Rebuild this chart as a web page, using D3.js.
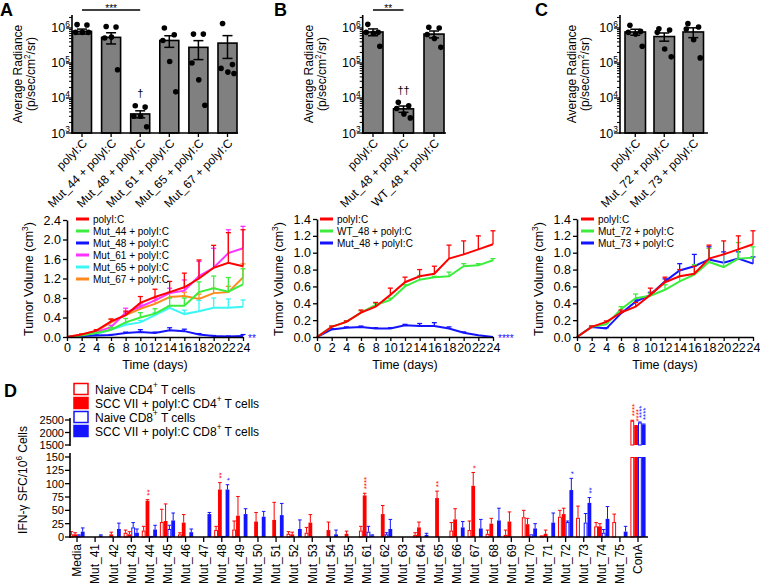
<!DOCTYPE html>
<html><head><meta charset="utf-8">
<script src="https://cdn.jsdelivr.net/npm/d3@7"></script>
<style>
body{margin:0;background:#fff;}
svg text{font-family:"Liberation Sans",Arial,Helvetica,sans-serif;fill:#000;}
</style>
</head><body>
<svg id="c" width="760" height="586"></svg>
<script>
// ---------------- DATA ----------------
// Panel A (bars, log radiance)
const barA_groups = ["polyI:C","Mut_44 + polyI:C","Mut_48 + polyI:C","Mut_61 + polyI:C","Mut_65 + polyI:C","Mut_67 + polyI:C"];
const barA_mean = [8.0e5, 5.4e5, 3.5e3, 4.4e5, 2.8e5, 3.7e5];
const barA_sem  = [1.3e5, 1.9e5, 0.8e3, 1.6e5, 1.55e5, 2.35e5];
const barA_points = [
  [1.25e6,1.22e6,7.5e5,7.5e5,7.5e5],
  [1.1e6,1.07e6,5.2e5,5.5e5,6.4e4],
  [6.0e3,5.5e3,3.0e3,3.0e3,1.5e3],
  [1.0e6,6.4e5,4.4e5,1.1e5,1.5e4],
  [6.7e5,6.7e5,1.0e5,3.3e4,6.2e3],
  [1.35e6,9.0e4,7.0e4,5.5e4,5.0e4]
];
// Panel B (bars)
const barB_groups = ["polyI:C","Mut_48 + polyI:C","WT_48 + polyI:C"];
const barB_mean = [7.7e5, 4.9e3, 6.7e5];
const barB_sem  = [1.7e5, 1.0e3, 1.5e5];
const barB_points = [
  [1.27e6,7.5e5,7.5e5,7.0e5,3.0e5],
  [7.5e3,6.0e3,5.0e3,3.5e3,2.7e3],
  [1.05e6,1.0e6,6.5e5,5.0e5,2.8e5]
];
// Panel C (bars)
const barC_groups = ["polyI:C","Mut_72 + polyI:C","Mut_73 + polyI:C"];
const barC_mean = [7.7e5, 5.7e5, 7.7e5];
const barC_sem  = [1.5e5, 1.5e5, 2.4e5];
const barC_points = [
  [1.2e6,8.0e5,7.5e5,6.7e5,3.0e5],
  [9.5e5,8.8e5,7.5e5,2.5e5,1.5e5],
  [1.33e6,1.07e6,9.4e5,4.6e5,1.4e5]
];

// Tumour growth (days)
const days = [0,2,4,6,8,10,12,14,16,18,20,22,24];
// Panel A lines
const lineA_polyIC     = [0,0.05,0.13,0.32,0.45,0.70,0.82,0.92,1.02,1.20,1.42,1.52,1.45];
const lineA_polyIC_sem = [0,0.01,0.02,0.05,0.08,0.13,0.16,0.22,0.29,0.38,0.46,0.62,0.75];
const lineA_mut44      = [0,0.03,0.08,0.15,0.30,0.40,0.48,0.64,0.64,0.92,1.00,0.93,1.08];
const lineA_mut44_sem  = [0,0.01,0.02,0.05,0.08,0.10,0.10,0.16,0.16,0.21,0.25,0.29,0.32];
const lineA_mut48      = [0,0.02,0.03,0.04,0.08,0.10,0.08,0.14,0.12,0.05,0.02,0.01,0.02];
const lineA_mut48_sem  = [0,0.01,0.01,0.01,0.02,0.05,0.02,0.05,0.04,0.02,0.01,0.01,0.03];
const lineA_mut61      = [0,0.03,0.10,0.20,0.50,0.62,0.75,0.90,0.95,1.25,1.42,1.72,1.82];
const lineA_mut61_sem  = [0,0.01,0.02,0.04,0.09,0.06,0.05,0.10,0.22,0.30,0.40,0.48,0.45];
const lineA_mut65      = [0,0.02,0.06,0.15,0.25,0.30,0.45,0.60,0.47,0.53,0.60,0.60,0.62];
const lineA_mut65_sem  = [0,0.01,0.01,0.03,0.04,0.04,0.05,0.04,0.08,0.22,0.20,0.18,0.14];
const lineA_mut67      = [0,0.05,0.12,0.30,0.45,0.58,0.68,0.82,0.84,0.78,0.90,0.92,1.22];
const lineA_mut67_sem  = [0,0.01,0.02,0.06,0.05,0.06,0.07,0.10,0.08,0.10,0.10,0.12,0.28];
// Panel B lines
const lineB_polyIC     = [0,0.12,0.18,0.29,0.36,0.50,0.65,0.72,0.75,0.93,0.98,1.04,1.10];
const lineB_polyIC_sem = [0,0.01,0.01,0.03,0.05,0.08,0.06,0.08,0.09,0.16,0.16,0.16,0.16];
const lineB_wt48       = [0,0.12,0.18,0.29,0.38,0.44,0.60,0.68,0.71,0.72,0.84,0.85,0.91];
const lineB_wt48_sem   = [0,0.01,0.01,0.02,0.02,0.02,0.02,0.05,0.01,0.05,0.03,0.02,0.02];
const lineB_mut48      = [0,0.09,0.11,0.12,0.10,0.10,0.14,0.13,0.13,0.10,0.05,0.02,0.00];
const lineB_mut48_sem  = [0,0.01,0.01,0.01,0.01,0.01,0.01,0.03,0.04,0.02,0.01,0.00,0.00];
// Panel C lines
const lineC_polyIC     = [0,0.12,0.18,0.29,0.36,0.50,0.65,0.72,0.75,0.93,0.98,1.04,1.10];
const lineC_polyIC_sem = [0,0.01,0.01,0.03,0.05,0.08,0.06,0.08,0.09,0.16,0.16,0.16,0.16];
const lineC_mut72      = [0,0.12,0.15,0.33,0.46,0.49,0.56,0.66,0.74,0.89,0.83,0.93,0.94];
const lineC_mut72_sem  = [0,0.01,0.02,0.03,0.05,0.03,0.06,0.06,0.12,0.16,0.15,0.19,0.13];
const lineC_mut73      = [0,0.12,0.10,0.28,0.42,0.50,0.66,0.79,0.84,0.92,0.88,0.93,0.87];
const lineC_mut73_sem  = [0,0.01,0.01,0.02,0.02,0.03,0.03,0.08,0.14,0.15,0.13,0.08,0.08];

// Panel D (ELISpot)
const dCats = ["Media","Mut_41","Mut_42","Mut_43","Mut_44","Mut_45","Mut_46","Mut_47","Mut_48","Mut_49","Mut_50","Mut_51","Mut_52","Mut_53","Mut_54","Mut_55",
  "Mut_61","Mut_62","Mut_63","Mut_64","Mut_65","Mut_66","Mut_67","Mut_68","Mut_69","Mut_70","Mut_71","Mut_72","Mut_73","Mut_74","Mut_75","ConA"];
const naiveCD4     = [5,0,0,8,12,28,5,0,13,14,0,0,6,8,0,0,12,0,0,4,0,12,13,6,4,37,3,38,36,20,28,2470];
const naiveCD4_sem = [5,0,0,5,8,24,3,0,7,16,0,0,4,10,0,0,8,0,0,4,0,15,17,7,9,13,0,12,22,7,15,20];
const sccCD4       = [5,0,5,5,68,30,27,0,89,40,29,32,5,27,13,6,78,43,0,18,73,33,96,25,29,24,6,43,0,20,0,2260];
const sccCD4_sem   = [3,0,4,5,2,32,15,0,13,36,17,33,4,15,15,5,4,16,0,10,13,20,25,10,18,11,7,11,0,5,0,20];
const naiveCD8     = [3,0,0,18,2,15,0,0,2,0,0,0,0,0,0,0,10,5,0,0,0,0,0,0,0,5,0,28,27,8,0,2400];
const naiveCD8_sem = [1,0,0,9,0,7,0,0,0,0,0,0,0,0,0,0,10,3,0,0,0,0,0,0,0,0,0,2,17,6,0,20];
const sccCD8       = [10,3,15,8,14,31,9,43,89,43,38,41,15,0,5,0,3,15,0,4,0,18,16,31,0,16,27,88,64,34,10,2320];
const sccCD8_sem   = [7,1,11,7,8,14,6,3,9,10,10,22,17,0,8,0,1,18,0,3,0,11,17,23,0,9,18,22,10,23,10,20];
const dStars = [
  {cat:"Mut_44",s:1,t:"**"},{cat:"Mut_48",s:1,t:"**"},{cat:"Mut_48",s:3,t:"*"},
  {cat:"Mut_61",s:1,t:"****"},{cat:"Mut_65",s:1,t:"**"},{cat:"Mut_67",s:1,t:"*"},
  {cat:"Mut_72",s:3,t:"*"},{cat:"Mut_73",s:3,t:"**"},
  {cat:"ConA",s:0,t:"****"},{cat:"ConA",s:1,t:"****"},{cat:"ConA",s:2,t:"****"},{cat:"ConA",s:3,t:"****"}
];

// ---------------- DRAWING ----------------
const svg = d3.select("#c");
const RED="#ff0000", GREEN="#3ded3d", BLUE="#1414ff", MAG="#ff33ff", CYAN="#3cf6f6", ORANGE="#ff8a1c";

function rich(g, x, y, parts, fs, opts={}){
  const t = g.append("text").attr("x",x).attr("y",y).attr("font-size",fs);
  if(opts.anchor) t.attr("text-anchor",opts.anchor);
  if(opts.transform) t.attr("transform",opts.transform);
  if(opts.fill) t.style("fill",opts.fill);
  let shift=0;
  parts.forEach(p=>{
    const ts=t.append("tspan").text(p.t);
    const target = p.sup ? -0.42*fs : 0;
    ts.attr("dy", target-shift); shift=target;
    if(p.sup) ts.attr("font-size", fs*0.68);
  });
  return t;
}

function panelLetter(l,x,y){
  svg.append("text").attr("x",x).attr("y",y).attr("font-size",18).attr("font-weight","bold").text(l);
}

// ---- bar panels ----
function barPanel(o){
  const g = svg.append("g");
  const n=o.groups.length, pi=1-o.bw/o.step;
  const x=d3.scaleBand().domain(o.groups).range([o.r0, o.r0+o.step*(n-pi)]).paddingInner(pi).paddingOuter(0);
  const y=d3.scaleLog().domain([1e3,2.35e6]).range([133,15]);
  const bw=x.bandwidth();
  const cx=d=>x(d)+bw/2;
  g.selectAll("rect.bar").data(o.groups).join("rect")
    .attr("x",d=>x(d)).attr("y",(d,i)=>y(o.mean[i])).attr("width",bw)
    .attr("height",(d,i)=>133-y(o.mean[i])).attr("fill","#808080").attr("stroke","#000").attr("stroke-width",1.6);
  o.groups.forEach((d,i)=>{
    const top=y(o.mean[i]+o.sem[i]), bot=y(Math.max(o.mean[i]-o.sem[i],1001));
    g.append("line").attr("x1",cx(d)).attr("x2",cx(d)).attr("y1",top).attr("y2",bot).attr("stroke","#000").attr("stroke-width",1.5);
    [top,bot].forEach(yy=>g.append("line").attr("x1",cx(d)-5).attr("x2",cx(d)+5).attr("y1",yy).attr("y2",yy).attr("stroke","#000").attr("stroke-width",1.5));
  });
  const jit=[-0.26,0.26,-0.34,0.02,0.34];
  o.groups.forEach((d,i)=>{
    g.selectAll(null).data(o.pts[i]).join("circle")
      .attr("cx",(v,j)=>cx(d)+jit[j]*bw).attr("cy",v=>y(v)).attr("r",2.8).attr("fill","#000");
  });
  g.append("line").attr("x1",o.axisX).attr("x2",o.axisX).attr("y1",15).attr("y2",133.8).attr("stroke","#000").attr("stroke-width",1.6);
  g.append("line").attr("x1",o.axisX-0.8).attr("x2",o.xEnd).attr("y1",133).attr("y2",133).attr("stroke","#000").attr("stroke-width",1.6);
  for(let k=3;k<=6;k++){
    g.append("line").attr("x1",o.axisX-6).attr("x2",o.axisX).attr("y1",y(10**k)).attr("y2",y(10**k)).attr("stroke","#000").attr("stroke-width",1.3);
    rich(g,o.axisX-2,y(10**k)+4.5,[{t:"10"},{t:String(k),sup:true}],12.5,{anchor:"end"});
    for(let m=2;m<=9;m++){const v=m*10**k; if(v<2.35e6)
      g.append("line").attr("x1",o.axisX-3).attr("x2",o.axisX).attr("y1",y(v)).attr("y2",y(v)).attr("stroke","#000").attr("stroke-width",1);}
  }
  o.groups.forEach(d=>{
    g.append("line").attr("x1",cx(d)).attr("x2",cx(d)).attr("y1",133).attr("y2",137).attr("stroke","#000").attr("stroke-width",1.3);
    g.append("text").attr("text-anchor","end").attr("font-size",12)
      .attr("transform",`translate(${cx(d)+3},${141}) rotate(-45)`).attr("dy","0.35em").text(d);
  });
  g.append("text").attr("text-anchor","middle").attr("font-size",12).attr("transform",`translate(${o.ylx},74) rotate(-90)`).text("Average Radiance");
  rich(g,0,0,[{t:"(p/sec/cm"},{t:"2",sup:true},{t:"/sr)"}],12,{anchor:"middle",transform:`translate(${o.ylx+13},74) rotate(-90)`});
  return {x,y,cx};
}

const pA = barPanel({groups:barA_groups,mean:barA_mean,sem:barA_sem,pts:barA_points,r0:72.5,step:29.1,bw:19,axisX:72,xEnd:238,ylx:22});
const pB = barPanel({groups:barB_groups,mean:barB_mean,sem:barB_sem,pts:barB_points,r0:363,step:30.5,bw:20,axisX:362.7,xEnd:446,ylx:313});
const pC = barPanel({groups:barC_groups,mean:barC_mean,sem:barC_sem,pts:barC_points,r0:625,step:29,bw:20.5,axisX:620,xEnd:708,ylx:576});

panelLetter("A",0,16); panelLetter("B",274,16); panelLetter("C",535,16);

function sigLine(p,a,b,txt){
  const x1=p.cx(a), x2=p.cx(b);
  svg.append("line").attr("x1",x1).attr("x2",x2).attr("y1",10).attr("y2",10).attr("stroke","#000").attr("stroke-width",1.5);
  svg.append("text").attr("x",(x1+x2)/2).attr("y",12).attr("text-anchor","middle").attr("font-size",10).text(txt);
}
sigLine(pA,barA_groups[0],barA_groups[2],"***");
sigLine(pB,barB_groups[0],barB_groups[1],"**");
svg.append("text").attr("x",pA.cx(barA_groups[2])).attr("y",97).attr("text-anchor","middle").attr("font-size",11).text("†");
svg.append("text").attr("x",pB.cx(barB_groups[1])).attr("y",94).attr("text-anchor","middle").attr("font-size",11).text("††");

// ---- line panels ----
function linePanel(o){
  const g=svg.append("g");
  const x=d3.scaleLinear().domain([0,24]).range([o.x0,o.x1]);
  const y=d3.scaleLinear().domain([0,o.ymax]).range([337,o.ytop]);
  const line=d3.line().x((d,i)=>x(days[i])).y(d=>y(d));
  o.series.slice().reverse().forEach(s=>{
    s.sem.forEach((e,i)=>{ if(e>0){
      const xx=x(days[i]), y1=y(s.vals[i]), y2=y(s.vals[i]+e);
      g.append("line").attr("x1",xx).attr("x2",xx).attr("y1",y1).attr("y2",y2).attr("stroke",s.color).attr("stroke-width",1.3);
      g.append("line").attr("x1",xx-2.5).attr("x2",xx+2.5).attr("y1",y2).attr("y2",y2).attr("stroke",s.color).attr("stroke-width",1.3);
    }});
    g.append("path").datum(s.vals).attr("d",line).attr("fill","none").attr("stroke",s.color).attr("stroke-width",2);
  });
  const ax=g.append("g").attr("transform","translate(0,337)")
    .call(d3.axisBottom(x).tickValues(d3.range(0,25,2)).tickSize(4).tickSizeOuter(0).tickPadding(2));
  const ay=g.append("g").attr("transform",`translate(${o.x0},0)`)
    .call(d3.axisLeft(y).tickValues(d3.range(0,o.ymax+1e-9,o.ystep)).tickFormat(d3.format(".1f")).tickSize(4).tickSizeOuter(0).tickPadding(2));
  [ax,ay].forEach(a=>{
    a.select(".domain").attr("stroke","#000").attr("stroke-width",1.6);
    a.selectAll(".tick line").attr("stroke","#000").attr("stroke-width",1.3);
    a.selectAll(".tick text").attr("font-size",12.5).attr("font-family",null).style("fill","#000");
  });
  g.append("text").attr("x",(o.x0+o.x1)/2).attr("y",369).attr("text-anchor","middle").attr("font-size",12.5).text("Time (days)");
  rich(g,0,0,[{t:"Tumor Volume (cm"},{t:"3",sup:true},{t:")"}],12.5,{anchor:"middle",transform:`translate(${o.ylx},279) rotate(-90)`});
  o.series.forEach((s,i)=>{
    const yy=219+i*12;
    g.append("line").attr("x1",o.lx).attr("x2",o.lx+13).attr("y1",yy).attr("y2",yy).attr("stroke",s.color).attr("stroke-width",3);
    g.append("text").attr("x",o.lx+17).attr("y",yy+3.5).attr("font-size",10).text(s.name);
  });
  if(o.star){
    g.append("text").attr("x",x(24)+5).attr("y",342).attr("font-size",10).style("fill",BLUE).text(o.star);
  }
}

linePanel({x0:67,x1:243,ymax:2.4,ystep:0.4,ytop:220,ylx:33,lx:76,star:"**",series:[
  {name:"polyI:C",color:RED,vals:lineA_polyIC,sem:lineA_polyIC_sem},
  {name:"Mut_44 + polyI:C",color:GREEN,vals:lineA_mut44,sem:lineA_mut44_sem},
  {name:"Mut_48 + polyI:C",color:BLUE,vals:lineA_mut48,sem:lineA_mut48_sem},
  {name:"Mut_61 + polyI:C",color:MAG,vals:lineA_mut61,sem:lineA_mut61_sem},
  {name:"Mut_65 + polyI:C",color:CYAN,vals:lineA_mut65,sem:lineA_mut65_sem},
  {name:"Mut_67 + polyI:C",color:ORANGE,vals:lineA_mut67,sem:lineA_mut67_sem}]});
linePanel({x0:317,x1:493,ymax:1.4,ystep:0.2,ytop:219,ylx:283,lx:320,star:"****",series:[
  {name:"polyI:C",color:RED,vals:lineB_polyIC,sem:lineB_polyIC_sem},
  {name:"WT_48 + polyI:C",color:GREEN,vals:lineB_wt48,sem:lineB_wt48_sem},
  {name:"Mut_48 + polyI:C",color:BLUE,vals:lineB_mut48,sem:lineB_mut48_sem}]});
linePanel({x0:577,x1:753,ymax:1.4,ystep:0.2,ytop:219,ylx:543,lx:581,series:[
  {name:"polyI:C",color:RED,vals:lineC_polyIC,sem:lineC_polyIC_sem},
  {name:"Mut_72 + polyI:C",color:GREEN,vals:lineC_mut72,sem:lineC_mut72_sem},
  {name:"Mut_73 + polyI:C",color:BLUE,vals:lineC_mut73,sem:lineC_mut73_sem}]});

// ---- panel D ----
(function(){
  const g=svg.append("g");
  panelLetter("D",4,397);
  const axX=70, y0=537;
  const x=d3.scalePoint().domain(dCats).range([77,638]);
  const sub=d3.scaleBand().domain([0,1,2,3]).range([-7.6,7.6]);
  const yL=d3.scaleLinear().domain([0,150]).range([537,457]);
  const yU=d3.scaleLinear().domain([1500,2500]).range([445,420]);
  const series=[
    {v:naiveCD4,e:naiveCD4_sem,c:RED,filled:false},
    {v:sccCD4,e:sccCD4_sem,c:RED,filled:true},
    {v:naiveCD8,e:naiveCD8_sem,c:BLUE,filled:false},
    {v:sccCD8,e:sccCD8_sem,c:BLUE,filled:true}];
  const topY=v=> v>150 ? yU(v) : yL(v);
  series.forEach((s,si)=>{
    dCats.forEach((cat,ci)=>{
      const v=s.v[ci]; if(!(v>0)) return;
      const bx=x(cat)+sub(si), bw=sub.bandwidth();
      const segs = v>150 ? [[yL(150),y0],[yU(v),yU(1500)]] : [[yL(v),y0]];
      segs.forEach(([t,b])=>{
        if(s.filled) g.append("rect").attr("x",bx).attr("y",t).attr("width",bw).attr("height",b-t).attr("fill",s.c);
        else g.append("rect").attr("x",bx+0.5).attr("y",t+0.5).attr("width",bw-1).attr("height",b-t-0.5).attr("fill","#fff").attr("stroke",s.c).attr("stroke-width",1);
      });
      const e=s.e[ci];
      if(e>0){
        const cxx=bx+bw/2, t1=topY(v), t2=topY(v+e);
        g.append("line").attr("x1",cxx).attr("x2",cxx).attr("y1",t1).attr("y2",t2).attr("stroke",s.c).attr("stroke-width",1);
        g.append("line").attr("x1",cxx-1.8).attr("x2",cxx+1.8).attr("y1",t2).attr("y2",t2).attr("stroke",s.c).attr("stroke-width",1);
      }
    });
  });
  dStars.forEach(st=>{
    const ci=dCats.indexOf(st.cat), s=series[st.s];
    const cxx=x(st.cat)+sub(st.s)+sub.bandwidth()/2;
    const yy=topY(s.v[ci]+s.e[ci])-4;
    g.append("text").attr("transform",`translate(${cxx},${yy}) rotate(-90)`).attr("dy","0.55em")
      .attr("font-size",8).style("fill",s.c).text(st.t);
  });
  g.append("line").attr("x1",axX).attr("x2",axX).attr("y1",418).attr("y2",446).attr("stroke","#000").attr("stroke-width",1.6);
  g.append("line").attr("x1",axX).attr("x2",axX).attr("y1",453).attr("y2",537.8).attr("stroke","#000").attr("stroke-width",1.6);
  g.append("line").attr("x1",axX-0.8).attr("x2",648).attr("y1",537).attr("y2",537).attr("stroke","#000").attr("stroke-width",1.6);
  d3.range(0,151,25).forEach(v=>{
    g.append("line").attr("x1",axX-5).attr("x2",axX).attr("y1",yL(v)).attr("y2",yL(v)).attr("stroke","#000").attr("stroke-width",1.3);
    g.append("text").attr("x",axX-6).attr("y",yL(v)+4).attr("text-anchor","end").attr("font-size",11).text(v);
  });
  [1500,2000,2500].forEach(v=>{
    g.append("line").attr("x1",axX-5).attr("x2",axX).attr("y1",yU(v)).attr("y2",yU(v)).attr("stroke","#000").attr("stroke-width",1.3);
    g.append("text").attr("x",axX-6).attr("y",yU(v)+4).attr("text-anchor","end").attr("font-size",11).text(v);
  });
  dCats.forEach(cat=>{
    g.append("line").attr("x1",x(cat)).attr("x2",x(cat)).attr("y1",537).attr("y2",542).attr("stroke","#000").attr("stroke-width",1.3);
    g.append("text").attr("transform",`translate(${x(cat)},544) rotate(-90)`).attr("text-anchor","end").attr("dy","0.36em").attr("font-size",12).text(cat);
  });
  rich(g,0,0,[{t:"IFN-γ SFC/10"},{t:"6",sup:true},{t:" Cells"}],12,{anchor:"middle",transform:`translate(27,480) rotate(-90)`});
  const leg=[
    {parts:[{t:"Naive CD4"},{t:"+",sup:true},{t:" T cells"}],c:RED,f:false},
    {parts:[{t:"SCC VII + polyI:C CD4"},{t:"+",sup:true},{t:" T cells"}],c:RED,f:true},
    {parts:[{t:"Naive CD8"},{t:"+",sup:true},{t:" T cells"}],c:BLUE,f:false},
    {parts:[{t:"SCC VII + polyI:C CD8"},{t:"+",sup:true},{t:" T cells"}],c:BLUE,f:true}];
  leg.forEach((l,i)=>{
    const yy=389+i*14;
    g.append("rect").attr("x",74).attr("y",yy-5.5).attr("width",14).attr("height",11)
      .attr("fill",l.f?l.c:"#fff").attr("stroke",l.c).attr("stroke-width",1.5);
    rich(g,95,yy+4.5,l.parts,12);
  });
})();
</script>
</body></html>
